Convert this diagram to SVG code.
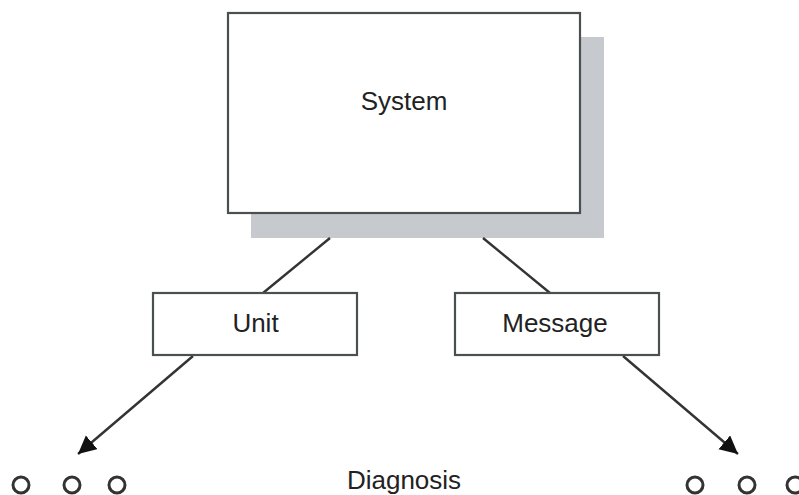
<svg xmlns="http://www.w3.org/2000/svg" width="799" height="495" viewBox="0 0 799 495">
<style>
.box{fill:#fff;stroke:#4a4f52;stroke-width:2.2}
.shadow{fill:#c6c9cd}
.lbl{font-family:"Liberation Sans",Arial,sans-serif;fill:#222;text-anchor:middle;font-size:26px}
.edge{stroke:#333;stroke-width:2.4;fill:none}
.dot{fill:none;stroke:#333;stroke-width:3}
</style>
<defs>
<marker id="arr" markerUnits="userSpaceOnUse" markerWidth="20" markerHeight="20" refX="18" refY="9" orient="auto">
<path d="M0,0 L18,9 L0,18 Z" fill="#111"/>
</marker>
</defs>
<rect width="799" height="495" fill="#fff"/>
<g id="system">
<rect class="shadow" x="251" y="37" width="353" height="201"/>
<rect class="box" x="228" y="13" width="352" height="200"/>
<text class="lbl" x="404" y="110">System</text>
</g>
<g id="connectors">
<line class="edge" x1="330" y1="238" x2="263" y2="293"/>
<line class="edge" x1="483" y1="238" x2="550" y2="293"/>
<line class="edge" x1="193" y1="356" x2="78" y2="454" marker-end="url(#arr)"/>
<line class="edge" x1="623" y1="356" x2="738" y2="454" marker-end="url(#arr)"/>
</g>
<g id="unit">
<rect class="box" x="153" y="293" width="204" height="62"/>
<text class="lbl" x="255.5" y="332">Unit</text>
</g>
<g id="message">
<rect class="box" x="455" y="293" width="204" height="62"/>
<text class="lbl" x="555" y="332">Message</text>
</g>
<g id="diagnosis">
<text class="lbl" x="404" y="489">Diagnosis</text>
</g>
<g id="dots-left">
<circle class="dot" cx="21" cy="485" r="8"/>
<circle class="dot" cx="72" cy="485" r="8"/>
<circle class="dot" cx="117" cy="485" r="8"/>
</g>
<g id="dots-right">
<circle class="dot" cx="695" cy="485" r="8"/>
<circle class="dot" cx="747" cy="485" r="8"/>
<circle class="dot" cx="795" cy="485" r="8"/>
</g>
</svg>
